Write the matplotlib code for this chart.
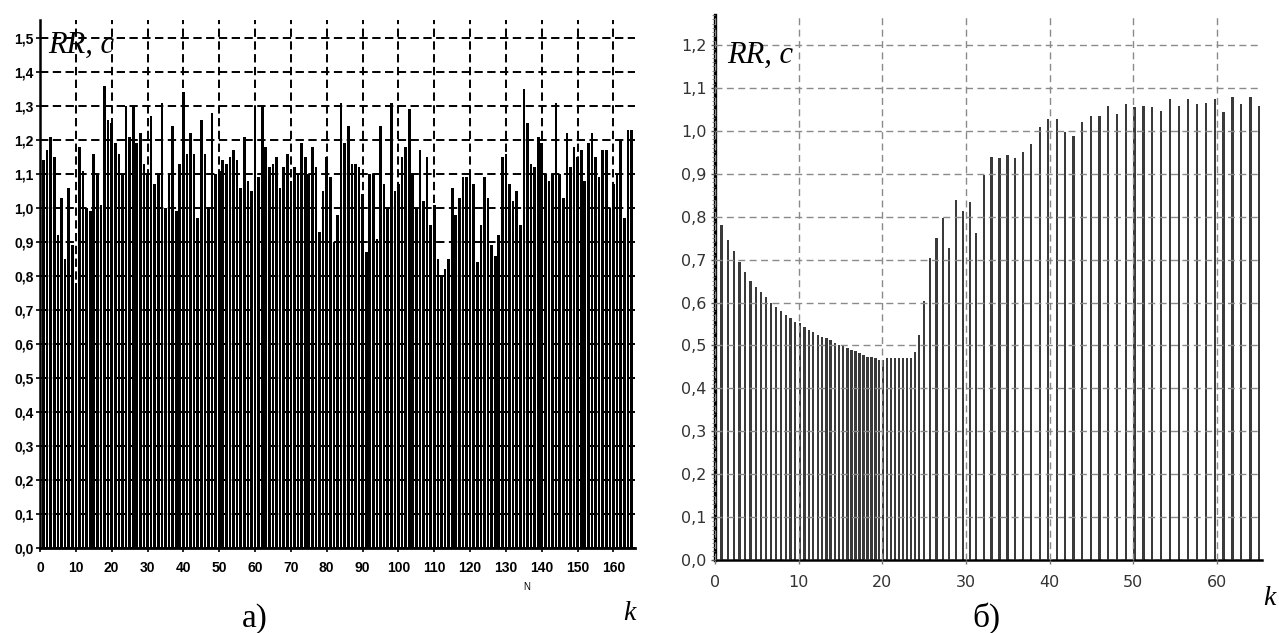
import numpy as np
import matplotlib
matplotlib.use("Agg")
import matplotlib.pyplot as plt
from matplotlib.ticker import FixedLocator, MultipleLocator, FuncFormatter

# ---- data: panel a) RR intervals (s) by beat number N ----
rr_a = [1.14, 1.17, 1.21, 1.15, 0.92, 1.03, 0.85, 1.06, 0.89, 0.78,
        1.18, 1.11, 1.00, 0.99, 1.16, 1.10, 1.01, 1.36, 1.26, 1.25,
        1.19, 1.16, 1.10, 1.30, 1.21, 1.30, 1.19, 1.22, 1.13, 1.10,
        1.27, 1.07, 1.10, 1.31, 1.00, 1.10, 1.24, 0.99, 1.13, 1.34,
        1.16, 1.22, 1.16, 0.97, 1.26, 1.16, 1.00, 1.28, 1.10, 1.11,
        1.14, 1.13, 1.15, 1.17, 1.14, 1.06, 1.21, 1.08, 1.05, 1.30,
        1.09, 1.30, 1.18, 1.12, 1.13, 1.15, 1.06, 1.12, 1.16, 1.08,
        1.12, 1.10, 1.19, 1.15, 1.10, 1.18, 1.12, 0.93,
        1.05, 1.15, 1.09, 0.90, 0.98, 1.31, 1.19, 1.24, 1.13, 1.13,
        1.12, 1.04, 0.87, 1.10, 1.10, 0.91, 1.24, 1.07, 1.00, 1.31,
        1.05, 1.07, 1.15, 1.18, 1.29, 1.10, 1.00, 1.17, 1.02, 1.15,
        0.95, 1.01, 0.85, 0.80, 0.82, 0.85, 1.06, 0.98, 1.03, 1.09,
        1.09, 1.11, 1.07, 0.84, 0.95, 1.09, 1.03, 0.89, 0.86, 0.92,
        1.15, 1.16, 1.07, 1.02, 1.05, 0.95, 1.35, 1.25, 1.13, 1.12,
        1.21, 1.19, 1.10, 1.08, 1.10, 1.31, 1.10, 1.03, 1.22, 1.12,
        1.18, 1.15, 1.17, 1.08, 1.19, 1.22, 1.15, 1.09, 1.17, 1.17,
        1.00, 1.07, 1.10, 1.20, 0.97, 1.23, 1.23]

# ---- data: panel б) RR intervals (s), plotted against elapsed time ----
rr_b = [0.780, 0.745, 0.720, 0.695, 0.670, 0.651, 0.636, 0.624, 0.612, 0.598,
        0.590, 0.580, 0.571, 0.563, 0.555, 0.552, 0.544, 0.537, 0.532, 0.524,
        0.520, 0.517, 0.513, 0.505, 0.500, 0.499, 0.493, 0.490, 0.486, 0.482,
        0.478, 0.474, 0.472, 0.470, 0.466, 0.466, 0.470, 0.470, 0.470, 0.470,
        0.470, 0.470, 0.470, 0.485, 0.525,
        0.604, 0.703, 0.750, 0.797, 0.727, 0.838, 0.814, 0.834, 0.763, 0.897,
        0.940, 0.937, 0.944, 0.937, 0.950, 0.970, 1.010, 1.028, 1.028, 0.998,
        0.987, 1.020, 1.035, 1.035, 1.058, 1.040, 1.063, 1.055, 1.058, 1.055,
        1.047, 1.075, 1.058, 1.075, 1.063, 1.066, 1.075, 1.043, 1.078, 1.063,
        1.078, 1.058]

xticks_a = list(range(0, 161, 10))
yticks_a = [0.0, 0.1, 0.2, 0.3, 0.4, 0.5, 0.6, 0.7, 0.8, 0.9, 1.0, 1.1, 1.2, 1.3, 1.4, 1.5]
xticks_b = list(range(0, 61, 10))
yticks_b = [0.0, 0.1, 0.2, 0.3, 0.4, 0.5, 0.6, 0.7, 0.8, 0.9, 1.0, 1.1, 1.2]

plt.rcParams["lines.scale_dashes"] = False
W, H = 1279, 633
fig = plt.figure(figsize=(W / 100, H / 100), dpi=100)

def px_axes(x0, y_top, x1, y_bot):
    return fig.add_axes([x0 / W, 1 - y_bot / H, (x1 - x0) / W, (y_bot - y_top) / H])

comma = FuncFormatter(lambda v, p: f"{v:.1f}".replace(".", ","))

# ---------------- panel a ----------------
axA = px_axes(40, 20, 635, 548)
nA = np.arange(1, len(rr_a) + 1)
axA.bar(nA, rr_a, width=0.74, color="black", linewidth=0, zorder=1)
axA.set_xlim(0, 166)
axA.set_ylim(0, 1.553)
axA.xaxis.set_major_locator(FixedLocator(xticks_a))
axA.yaxis.set_major_locator(FixedLocator(yticks_a))
axA.yaxis.set_major_formatter(comma)
axA.set_axisbelow(False)
axA.grid(True, color="black", linewidth=1.4, linestyle=(0, (6, 3.2)))
for s in ("top", "right"):
    axA.spines[s].set_visible(False)
axA.spines["left"].set_linewidth(1.8)
axA.spines["bottom"].set_linewidth(2.0)
axA.tick_params(axis="y", length=3, width=1.2, pad=1.5, labelsize=10)
axA.tick_params(axis="x", length=3, width=1.2, pad=6, labelsize=10)
for lab in axA.get_xticklabels() + axA.get_yticklabels():
    lab.set_fontfamily("Liberation Sans")
    lab.set_fontweight("bold")

# ---------------- panel b ----------------
axB = px_axes(715, 15, 1262, 560)
tB = np.cumsum(rr_b)
axB.bar(tB, rr_b, width=0.28, color="#3a3a3a", linewidth=0, zorder=1)
axB.set_xlim(0, 65.4)
axB.set_ylim(0, 1.27)
axB.xaxis.set_major_locator(FixedLocator(xticks_b))
axB.yaxis.set_major_locator(FixedLocator(yticks_b))
axB.yaxis.set_minor_locator(MultipleLocator(0.01))
axB.yaxis.set_major_formatter(comma)
axB.set_axisbelow(False)
axB.grid(True, which="major", color="#8a8a8a", linewidth=1.0, linestyle=(0, (5, 3.2)))
for s in ("top", "right"):
    axB.spines[s].set_visible(False)
axB.spines["left"].set_linewidth(2.4)
axB.spines["bottom"].set_linewidth(1.8)
axB.tick_params(axis="y", which="major", length=3, width=1, color="#555555",
                pad=3, labelsize=11.5, labelcolor="#333333")
axB.tick_params(axis="y", which="minor", length=2, width=0.6, color="#777777")
axB.tick_params(axis="x", length=3, width=1, color="#777777", pad=8,
                labelsize=11.5, labelcolor="#333333")

# ---------------- texts ----------------
def ftext(x, y, s, **kw):
    fig.text(x / W, 1 - y / H, s, **kw)

serif = "Liberation Serif"
ftext(48, 53, "RR, c", family=serif, style="italic", fontsize=22, va="baseline")
ftext(727, 63, "RR, c", family=serif, style="italic", fontsize=22, va="baseline")
ftext(242, 627, "а)", family=serif, fontsize=24, va="baseline")
ftext(972, 627, "б)", family=serif, fontsize=24, va="baseline")
ftext(623, 620, "k", family=serif, style="italic", fontsize=20, va="baseline")
ftext(1263, 605, "k", family=serif, style="italic", fontsize=20, va="baseline")
ftext(527, 587, "N", family="Liberation Sans", fontsize=7, ha="center", va="center")

fig.savefig("out.png", dpi=100)
